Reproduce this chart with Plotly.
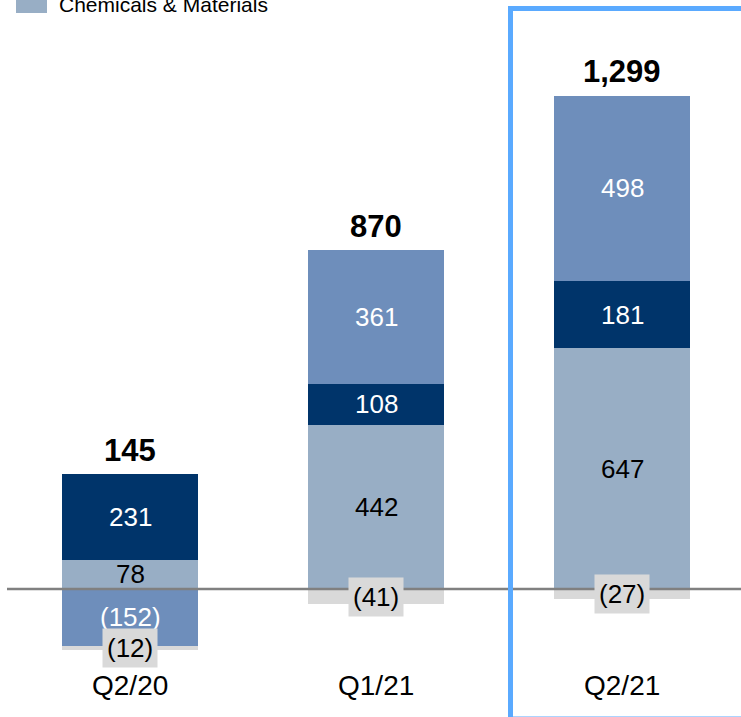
import plotly.graph_objects as go

# quarters and stacked segment values
quarters = ["Q2/20", "Q1/21", "Q2/21"]
chem_materials = [78, 442, 647]
navy_segment = [231, 108, 181]
mid_segment = [-152, 361, 498]
reconciliation = [-12, -41, -27]
totals = [145, 870, 1299]

W, H = 741, 717
# pixel helpers (margins are zero, so paper == page)
def px(x):
    return x / W

def py(y):
    return 1 - y / H

FONT = "Liberation Sans, Arial, sans-serif"
colors = {
    "chem": "#98AEC5",
    "navy": "#00346A",
    "mid": "#6E8EBB",
    "rec": "#D9D9D9",
}

xs = list(range(len(quarters)))
series = [
    ("Chemicals & Materials", chem_materials, colors["chem"], "black"),
    ("Segment 2", navy_segment, colors["navy"], "white"),
    ("Segment 3", mid_segment, colors["mid"], "white"),
    ("Other", reconciliation, colors["rec"], "black"),
]

fig = go.Figure()
for name, vals, col, _ in series:
    fig.add_trace(go.Bar(
        x=xs, y=vals, name=name, width=0.553,
        marker=dict(color=col, line=dict(width=0)),
        showlegend=False, hoverinfo="skip",
    ))

# segment labels centred in each stacked piece
for i in xs:
    pos_base, neg_base = 0, 0
    for name, vals, col, tcol in series:
        v = vals[i]
        if v >= 0:
            mid = pos_base + v / 2
            pos_base += v
        else:
            mid = neg_base + v / 2
            neg_base += v
        label = f"{v:,}" if v >= 0 else f"({-v})"
        is_rec = name == "Other"
        fig.add_annotation(
            x=i, y=mid, text=label, showarrow=False,
            font=dict(family=FONT, size=26, color=tcol),
            bgcolor=colors["rec"] if is_rec else None,
            borderpad=4 if is_rec else 0,
        )
    # total above the positive stack
    fig.add_annotation(
        x=i, y=pos_base, text=f"<b>{totals[i]:,}</b>", showarrow=False,
        yanchor="middle", yshift=24,
        font=dict(family=FONT, size=31, color="black"),
    )
    fig.add_annotation(
        x=i, y=py(703), yref="paper", text=quarters[i], showarrow=False,
        font=dict(family=FONT, size=28, color="black"),
    )

# zero line
fig.add_shape(type="line", xref="paper", yref="y", x0=px(7), x1=1, y0=0, y1=0,
              line=dict(color="#808080", width=2.5))

# highlight box around latest quarter
fig.add_shape(type="rect", xref="paper", yref="paper",
              x0=px(510.5), x1=px(770), y0=py(719), y1=py(8.5),
              line=dict(color="#5AAAFF", width=5))

# legend (only the visible entry, cut off at the top)
fig.add_shape(type="rect", xref="paper", yref="paper",
              x0=px(16), x1=px(47), y0=py(13), y1=py(-10),
              line=dict(width=0), fillcolor=colors["chem"])
fig.add_annotation(x=px(57), y=py(5), xref="paper", yref="paper",
                   text="Chemicals & Materials", showarrow=False,
                   xanchor="left", yanchor="middle",
                   font=dict(family=FONT, size=21, color="black"))

# axes mapped so that 0.372 px per unit and zero at y=589
scale = 0.372
fig.update_layout(
    width=W, height=H,
    margin=dict(l=0, r=0, t=0, b=0),
    paper_bgcolor="white", plot_bgcolor="white",
    barmode="relative", bargap=0,
    xaxis=dict(range=[-130 / 246, (W - 130) / 246], visible=False, fixedrange=True),
    yaxis=dict(range=[-(H - 589) / scale, 589 / scale], visible=False, fixedrange=True),
)

# drop the default page margin so the figure sits at the window corner
fig.write_html("out.html", config={"displayModeBar": False},
               post_script="document.body.style.margin='0';")
